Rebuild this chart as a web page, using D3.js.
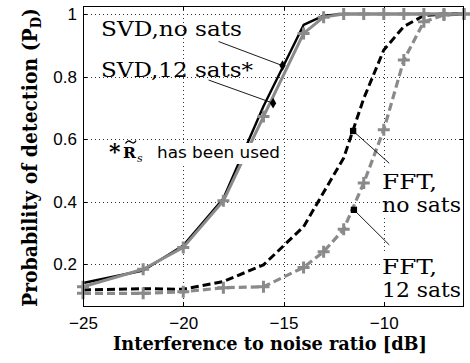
<!DOCTYPE html>
<html>
<head>
<meta charset="utf-8">
<script src="https://cdnjs.cloudflare.com/ajax/libs/d3/7.8.5/d3.min.js"></script>
<style>
  html, body { margin: 0; padding: 0; background: #fff; }
  svg { display: block; }
</style>
</head>
<body>
<svg id="chart" width="470" height="363"></svg>
<script>
// Interference-to-noise ratio sample points [dB]
const inr = [-25, -22, -20, -18, -16, -14, -13, -12, -11, -10, -9, -8, -7, -6];

// Probability of detection for each method
const svdNoSats  = [0.14, 0.18, 0.26, 0.41, 0.705, 0.965, 0.995, 1, 1, 1, 1, 1, 1, 1];
const svd12Sats  = [0.128, 0.184, 0.254, 0.403, 0.672, 0.938, 0.99, 1, 1, 1, 1, 1, 1, 1];
const fftNoSats  = [0.118, 0.122, 0.12, 0.145, 0.198, 0.32, 0.43, 0.54, 0.73, 0.885, 0.96, 0.995, 1, 1];
const fft12Sats  = [0.107, 0.107, 0.112, 0.125, 0.128, 0.19, 0.24, 0.312, 0.46, 0.63, 0.853, 0.975, 0.997, 1];

// Axis ticks
const xTicks = [-25, -20, -15, -10];
const yTicks = [0.2, 0.4, 0.6, 0.8, 1];

// Callout pointers: tail near the label, head on the curve (data units)
const calloutTail = [[-18.24, 0.912], [-18.74, 0.789], [-9.73, 0.523], [-9.73, 0.262]];
const calloutHead = [[-15.05, 0.835], [-15.52, 0.715], [-11.53, 0.626], [-11.49, 0.374]];
const calloutShape = ["diamond", "diamond", "square", "square"];

const svg = d3.select("#chart");
const L = 83, R = 464, T = 6, B = 306;

const x = d3.scaleLinear().domain([-25, -6]).range([L, R]);
const y = d3.scaleLinear().domain([0.0666, 1.0256]).range([B, T]);

const GRAY = "#8a8a8a";
const serif = "'DejaVu Serif', serif";
const sans = "'Liberation Sans', Arial, sans-serif";

// Grid
const grid = svg.append("g");
xTicks.filter(v => v > -25).forEach(v => {
  grid.append("line")
    .attr("x1", Math.round(x(v)) + 0.5).attr("x2", Math.round(x(v)) + 0.5)
    .attr("y1", T).attr("y2", B)
    .attr("stroke", "#333").attr("stroke-width", 1).attr("stroke-dasharray", "1,3");
});
yTicks.forEach(v => {
  grid.append("line")
    .attr("y1", Math.round(y(v)) + 0.5).attr("y2", Math.round(y(v)) + 0.5)
    .attr("x1", L).attr("x2", R)
    .attr("stroke", "#333").attr("stroke-width", 1).attr("stroke-dasharray", "1,3");
});

// Axes with inward ticks
const xAxis = d3.axisBottom(x).tickValues(xTicks).tickSize(0).tickPadding(0).tickFormat(d3.format("d"));
const gx = svg.append("g").attr("transform", `translate(0,${B})`).call(xAxis);
gx.select(".domain").remove();
gx.selectAll("text").attr("y", 23).attr("dy", null)
  .style("font-family", sans).style("font-size", "17px").attr("fill", "#000");

const yAxis = d3.axisLeft(y).tickValues(yTicks).tickSize(0).tickPadding(6).tickFormat(d => d === 1 ? "1" : d3.format(".1f")(d));
const gy = svg.append("g").attr("transform", `translate(${L},0)`).call(yAxis);
gy.select(".domain").remove();
gy.selectAll("text").style("font-family", sans).style("font-size", "17px").attr("fill", "#000");

const ticks = svg.append("g").attr("stroke", "#000").attr("stroke-width", 1);
xTicks.forEach(v => {
  const px = Math.round(x(v)) + 0.5;
  ticks.append("line").attr("x1", px).attr("x2", px).attr("y1", B).attr("y2", B - 4);
  ticks.append("line").attr("x1", px).attr("x2", px).attr("y1", T).attr("y2", T + 4);
});
yTicks.forEach(v => {
  const py = Math.round(y(v)) + 0.5;
  ticks.append("line").attr("x1", L).attr("x2", L + 4).attr("y1", py).attr("y2", py);
  ticks.append("line").attr("x1", R).attr("x2", R - 4).attr("y1", py).attr("y2", py);
});

// Curves
const line = d3.line().x(d => x(d[0])).y(d => y(d[1]));
const pts = vals => inr.map((v, i) => [v, vals[i]]);

const curves = svg.append("g").attr("fill", "none").attr("stroke-linejoin", "round");
curves.append("path").attr("d", line(pts(fftNoSats)))
  .attr("stroke", "#000").attr("stroke-width", 3).attr("stroke-dasharray", "8,4");
curves.append("path").attr("d", line(pts(fft12Sats)))
  .attr("stroke", GRAY).attr("stroke-width", 3.2).attr("stroke-dasharray", "8,4");
curves.append("path").attr("d", line(pts(svdNoSats)))
  .attr("stroke", "#000").attr("stroke-width", 2.4);
curves.append("path").attr("d", line(pts(svd12Sats)))
  .attr("stroke", GRAY).attr("stroke-width", 3);

// Plus markers on the 12-satellite curves
const plusPath = s => `M${-s},0H${s}M0,${-s}V${s}`;
[svd12Sats, fft12Sats].forEach(vals => {
  svg.append("g").selectAll("path").data(pts(vals)).join("path")
    .attr("transform", d => `translate(${x(d[0])},${y(d[1])})`)
    .attr("d", plusPath(6))
    .attr("stroke", GRAY).attr("stroke-width", 3).attr("fill", "none");
});

// Frame
svg.append("rect").attr("x", L + 0.5).attr("y", T + 0.5).attr("width", R - L - 1).attr("height", B - T)
  .attr("fill", "none").attr("stroke", "#000").attr("stroke-width", 1);

// Note about the covariance estimate (boxed)
svg.append("rect").attr("x", 155).attr("y", 143).attr("width", 128).attr("height", 21).attr("fill", "#fff");
const note = svg.append("g").attr("fill", "#000");
note.append("text").attr("x", 109).attr("y", 159).text("*")
  .style("font-family", serif).style("font-weight", "bold").style("font-size", "22px");
note.append("text").attr("x", 123).attr("y", 158).text("R")
  .style("font-family", serif).style("font-weight", "bold").style("font-size", "15.5px");
// tilde accent over R
note.append("path")
  .attr("d", "M125.5,143.5 C127,140.5 129,140.5 131,142 S134.5,143.5 136,140.5")
  .attr("fill", "none").attr("stroke", "#000").attr("stroke-width", 1.4);
note.append("text").attr("x", 137).attr("y", 162).text("s")
  .style("font-family", serif).style("font-style", "italic").style("font-size", "11px");
note.append("text").attr("x", 157).attr("y", 158).text("has been used")
  .attr("textLength", 123).attr("lengthAdjust", "spacingAndGlyphs")
  .style("font-family", "'DejaVu Sans', sans-serif").style("font-size", "16px");

// Boxes behind FFT labels
svg.append("rect").attr("x", 381).attr("y", 170).attr("width", 82).attr("height", 46).attr("fill", "#fff");
svg.append("rect").attr("x", 381).attr("y", 253).attr("width", 82).attr("height", 48).attr("fill", "#fff");

// Callout lines and heads
const co = svg.append("g");
calloutTail.forEach((t, i) => {
  const h = calloutHead[i];
  co.append("line")
    .attr("x1", x(t[0])).attr("y1", y(t[1])).attr("x2", x(h[0])).attr("y2", y(h[1]))
    .attr("stroke", "#000").attr("stroke-width", 0.9);
  const s = calloutShape[i] === "diamond" ? d3.symbolDiamond : d3.symbolSquare;
  co.append("path")
    .attr("transform", `translate(${x(h[0])},${y(h[1])})`)
    .attr("d", d3.symbol().type(s).size(calloutShape[i] === "diamond" ? 34 : 40)())
    .attr("fill", "#000");
});

// Curve labels
const labels = [
  {t: "SVD,no sats", x: 101, y: 35.5, w: 141},
  {t: "SVD,12 sats*", x: 101, y: 76.5, w: 152},
  {t: "FFT,", x: 382, y: 188.5, w: 55},
  {t: "no sats", x: 382, y: 211.5, w: 79},
  {t: "FFT,", x: 382, y: 273.5, w: 55},
  {t: "12 sats", x: 382, y: 296.5, w: 79}
];
svg.append("g").selectAll("text").data(labels).join("text")
  .attr("x", d => d.x).attr("y", d => d.y).text(d => d.t)
  .attr("textLength", d => d.w).attr("lengthAdjust", "spacingAndGlyphs")
  .style("font-family", serif).style("font-size", "20px").attr("fill", "#000");

// Axis titles
svg.append("text").attr("x", 113).attr("y", 350)
  .text("Interference to noise ratio [dB]")
  .attr("textLength", 314).attr("lengthAdjust", "spacingAndGlyphs")
  .style("font-family", serif).style("font-weight", "bold").style("font-size", "18px");

const yl = svg.append("text")
  .attr("transform", "translate(36.5,307) rotate(-90)")
  .attr("textLength", 299).attr("lengthAdjust", "spacingAndGlyphs")
  .style("font-family", serif).style("font-weight", "bold").style("font-size", "20px");
yl.append("tspan").text("Probability of detection (P");
yl.append("tspan").text("D").attr("dy", 4).style("font-size", "14px");
yl.append("tspan").text(")").attr("dy", -4);
</script>
</body>
</html>
